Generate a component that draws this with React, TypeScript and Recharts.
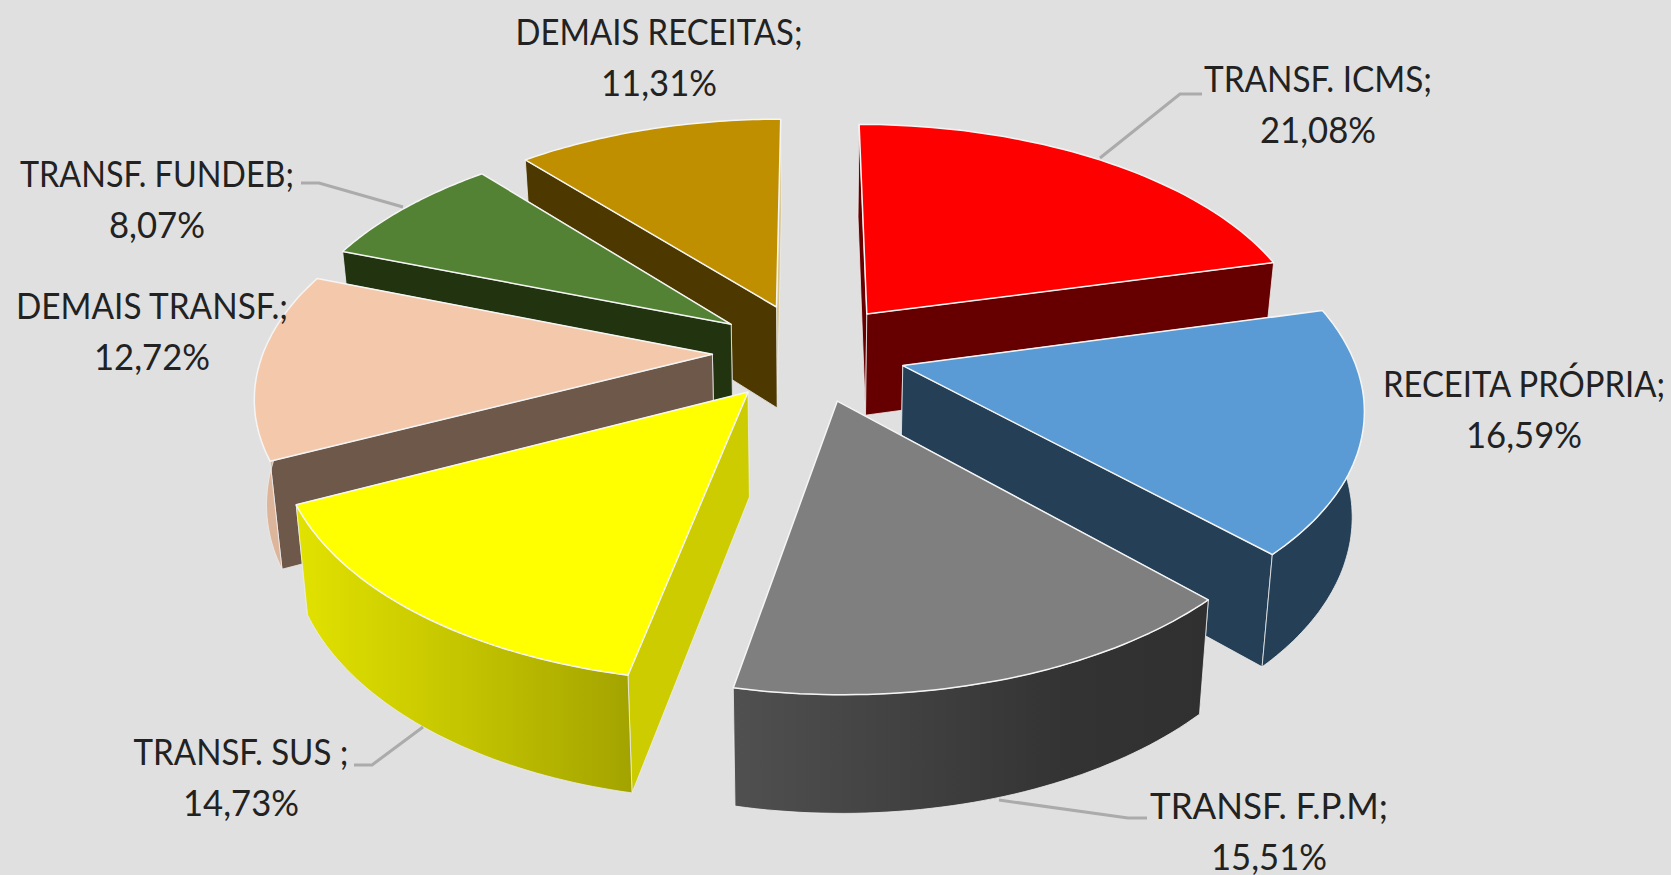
// App.tsx
import React from 'react';
import { PieChart, Pie } from 'recharts';

const NAMES = ['TRANSF. ICMS', 'RECEITA PRÓPRIA', 'TRANSF. F.P.M', 'TRANSF. SUS\u00a0', 'DEMAIS TRANSF.', 'TRANSF. FUNDEB', 'DEMAIS RECEITAS'];
const VALUES = [21.08, 16.59, 15.51, 14.73, 12.72, 8.07, 11.31];

const TOP_COLORS = ['#FF0000', '#5B9BD5', '#7F7F7F', '#FFFF00', '#F4C8AB', '#548235', '#BF8F00'];
const SIDE_COLORS = ['#660000', '#243F56', '#333333', '#CCCC00', '#6D5849', '#21340F', '#4D3900'];
const END_SIDE_COLORS = ['#660000', '#243F56', '#333333', '#CCCC00', '#6D5849', '#21340F', '#D9C48A'];
const RIM_COLORS = ['#660000', '#243F56', 'url(#rimFpm)', 'url(#rimSus)', '#DDB59B', '#21340F', '#D9C48A'];

const pieData = NAMES.map((name, i) => ({ name, value: VALUES[i] }));

// back-left walls have to be painted far to near, so that side runs the other way round
const pieDataCcw = [...pieData].reverse();
const RIGHT_SIDE = [0, 1, 2];
const LEFT_SIDE = [3, 4, 5, 6];

// label box: centre x, baseline of first line, baseline of second line, text widths
const LABEL_LAYOUT = [
    { x: 1318, y1: 92, y2: 143, w1: 228, w2: 116 },
    { x: 1524, y1: 397, y2: 448, w1: 282, w2: 116 },
    { x: 1269, y1: 819, y2: 870, w1: 238, w2: 116 },
    { x: 241, y1: 765, y2: 816, w1: 215, w2: 116 },
    { x: 152, y1: 319, y2: 370, w1: 272, w2: 116 },
    { x: 157, y1: 187, y2: 238, w1: 274, w2: 96 },
    { x: 659, y1: 45, y2: 96, w1: 287, w2: 116 },
];

const LEADERS: Record<number, string> = {
    0: '1100,158 1180,94 1202,94',
    2: '999,800 1128,818 1147,818',
    3: '423,727 372,765 354,765',
    5: '403,207 319,183 301,183',
};

// 3d look of the exploded pie
const CX = 809;
const CY = 352;
const RADIUS = 449;
const TILT = 0.513;
const PERSPECTIVE = 0.157;
const EXPLODE = 0.215;
const DEPTH = 103;

const project = (x: number, y: number, z: number) => {
    const s = 1 / (1 - PERSPECTIVE * y);
    return [CX + x * RADIUS * s * (1 - z * 0.022), CY + y * TILT * RADIUS * s + z * DEPTH * (1 + 0.65 * (s - 1))];
};

const toPath = (pts: number[][]) =>
    'M' + pts.map((p) => `${p[0].toFixed(1)},${p[1].toFixed(1)}`).join('L') + 'Z';

const sliceGeometry = (props: any) => {
    const d0 = 90 - props.startAngle;
    const d1 = 90 - props.endAngle;
    const shift = Math.min(d0, d1) < -0.001 ? 360 : 0;
    const lo = Math.min(d0, d1) + shift;
    const hi = Math.max(d0, d1) + shift;
    const mid = (((lo + hi) / 2) * Math.PI) / 180;
    const ex = EXPLODE * Math.sin(mid);
    const ey = -EXPLODE * Math.cos(mid);
    const arc = (from: number, to: number, z: number) => {
        const pts = [];
        for (let i = 0; i <= 48; i++) {
            const a = ((from + ((to - from) * i) / 48) * Math.PI) / 180;
            pts.push(project(ex + Math.sin(a), ey - Math.cos(a), z));
        }
        return pts;
    };
    // only the part of the rim that faces the viewer
    const rimFrom = Math.max(lo, 90);
    const rimTo = Math.min(hi, 270);
    return {
        apexTop: project(ex, ey, 0),
        apexBottom: project(ex, ey, 1),
        top: arc(lo, hi, 0),
        bottom: arc(lo, hi, 1),
        rim: rimTo > rimFrom ? [...arc(rimFrom, rimTo, 0), ...arc(rimFrom, rimTo, 1).reverse()] : null,
    };
};

const makeWallShape = (visible: number[]) => (props: any) => {
    const i = NAMES.indexOf(props.name);
    if (!visible.includes(i)) return <g />;
    const { apexTop, apexBottom, top, bottom, rim } = sliceGeometry(props);
    const last = top.length - 1;
    const endWall = <path d={toPath([apexTop, top[last], bottom[last], apexBottom])} fill={END_SIDE_COLORS[i]} stroke="#EDEDED" strokeWidth={0.8} />;
    const startWall = <path d={toPath([apexTop, top[0], bottom[0], apexBottom])} fill={SIDE_COLORS[i]} stroke="#EDEDED" strokeWidth={0.8} />;
    // the wall further back goes first
    const startIsBehind = top[0][1] < top[last][1];
    return (
        <g>
            {startIsBehind ? startWall : endWall}
            {startIsBehind ? endWall : startWall}
            {rim && <path d={toPath(rim)} fill={RIM_COLORS[i]} stroke="#EDEDED" strokeWidth={0.8} />}
        </g>
    );
};

const TopShape = (props: any) => {
    const { apexTop, top } = sliceGeometry(props);
    return <path d={toPath([apexTop, ...top])} fill={TOP_COLORS[NAMES.indexOf(props.name)]} stroke="#F5F5F5" strokeWidth={1.5} strokeLinejoin="round" />;
};

const renderLabel = ({ index }: any) => {
    const box = LABEL_LAYOUT[index];
    const shared = { x: box.x, textAnchor: 'middle' as const, fontFamily: 'Lato', fontSize: 36, fill: '#222222', lengthAdjust: 'spacingAndGlyphs' };
    return (
        <g>
            {LEADERS[index] && <polyline points={LEADERS[index]} fill="none" stroke="#ABABAB" strokeWidth={3} />}
            <text {...shared} y={box.y1} textLength={box.w1}>{NAMES[index]};</text>
            <text {...shared} y={box.y2} textLength={box.w2}>{VALUES[index].toFixed(2).replace('.', ',')}%</text>
        </g>
    );
};

export default function App() {
    const pieProps = {
        dataKey: 'value',
        nameKey: 'name',
        cx: CX,
        cy: CY,
        outerRadius: RADIUS,
        stroke: 'none',
        isAnimationActive: false,
    };
    return (
        <div style={{ position: 'absolute', left: 0, top: 0, width: 1671, height: 875, background: '#E0E0E0', overflow: 'hidden' }}>
            <PieChart width={1671} height={875} margin={{ top: 0, right: 0, bottom: 0, left: 0 }}>
                <defs>
                    <linearGradient id="rimFpm" x1="0" y1="0" x2="1" y2="0">
                        <stop offset="0%" stopColor="#505050" />
                        <stop offset="70%" stopColor="#333333" />
                        <stop offset="100%" stopColor="#303030" />
                    </linearGradient>
                    <linearGradient id="rimSus" x1="0" y1="0" x2="1" y2="0">
                        <stop offset="0%" stopColor="#E2E200" />
                        <stop offset="50%" stopColor="#C4C400" />
                        <stop offset="100%" stopColor="#A3A300" />
                    </linearGradient>
                </defs>
                <Pie {...pieProps} data={pieDataCcw} startAngle={90} endAngle={450} shape={makeWallShape(LEFT_SIDE)} />
                <Pie {...pieProps} data={pieData} startAngle={90} endAngle={-270} shape={makeWallShape(RIGHT_SIDE)} />
                <Pie {...pieProps} data={pieData} startAngle={90} endAngle={-270} shape={TopShape} label={renderLabel} labelLine={false} />
            </PieChart>
        </div>
    );
}
